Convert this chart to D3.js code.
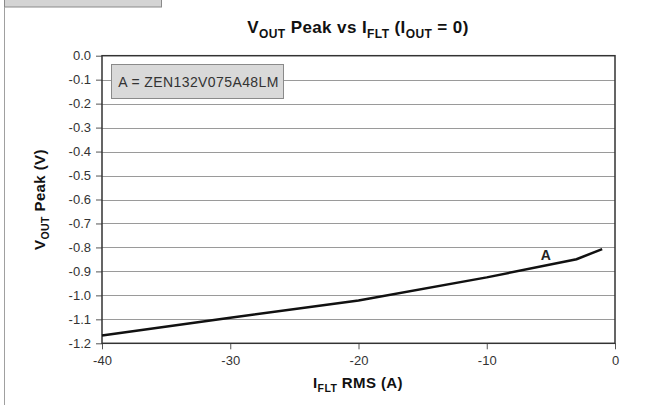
<!DOCTYPE html>
<html><head><meta charset="utf-8">
<script src="https://cdn.jsdelivr.net/npm/d3@7"></script>
<style>
html,body{margin:0;padding:0;background:#fff;}
svg{display:block;font-family:"Liberation Sans",Arial,Helvetica,sans-serif;}
</style></head>
<body><svg id="c" width="645" height="405"></svg>
<script>
const xTicks = [-40, -30, -20, -10, 0];
const yTicks = [0.0, -0.1, -0.2, -0.3, -0.4, -0.5, -0.6, -0.7, -0.8, -0.9, -1.0, -1.1, -1.2];
const seriesX = [-40, -30, -20, -10, -3, -1];
const seriesY = [-1.167, -1.093, -1.021, -0.925, -0.849, -0.807];
const seriesName = "A";
const legendText = "A = ZEN132V075A48LM";

const svg = d3.select("#c");
const L = 102, R = 615, T = 55.7, B = 343.3;
const x = d3.scaleLinear().domain([-40, 0]).range([L, R]);
const y = d3.scaleLinear().domain([-1.2, 0]).range([B, T]);

// figure tab and left frame line
svg.append("rect").attr("x", 4.5).attr("y", -2).attr("width", 157).attr("height", 9)
  .attr("fill", "#d4d4d4").attr("stroke", "#8a8a8a").attr("stroke-width", 1);
svg.append("line").attr("x1", 4.5).attr("x2", 4.5).attr("y1", 7).attr("y2", 405)
  .attr("stroke", "#a0a0a0").attr("stroke-width", 1);

// gridlines
svg.append("g").selectAll("line").data(yTicks.filter(d => d !== 0 && d !== -1.2)).join("line")
  .attr("x1", L).attr("x2", R).attr("y1", d => Math.round(y(d)) + 0.5).attr("y2", d => Math.round(y(d)) + 0.5)
  .attr("stroke", "#9a9a9a").attr("stroke-width", 1);

// y axis
const yAxis = d3.axisLeft(y).tickValues(yTicks).tickSize(6).tickPadding(5)
  .tickFormat(d => d3.format(".1f")(d).replace("−", "-"));
const gy = svg.append("g").attr("transform", `translate(${L},0)`).call(yAxis);
gy.select(".domain").remove();
gy.selectAll(".tick line").attr("stroke", "#555");
gy.selectAll(".tick text").attr("font-size", 13).attr("fill", "#333")
  .attr("font-family", "'Liberation Sans',Arial,sans-serif");

// x axis
const xAxis = d3.axisBottom(x).tickValues(xTicks).tickSize(6).tickPadding(6)
  .tickFormat(d => String(d));
const gx = svg.append("g").attr("transform", `translate(0,${B})`).call(xAxis);
gx.select(".domain").remove();
gx.selectAll(".tick line").attr("stroke", "#555");
gx.selectAll(".tick text").attr("font-size", 13).attr("fill", "#333")
  .attr("font-family", "'Liberation Sans',Arial,sans-serif");

// plot frame
svg.append("rect").attr("x", L).attr("y", T).attr("width", R - L).attr("height", B - T)
  .attr("fill", "none").attr("stroke", "#333").attr("stroke-width", 1.5);

// series
const pts = seriesX.map((d, i) => [d, seriesY[i]]);
svg.append("path").datum(pts)
  .attr("d", d3.line().x(d => x(d[0])).y(d => y(d[1])))
  .attr("fill", "none").attr("stroke", "#111").attr("stroke-width", 2.5);
svg.append("text").attr("x", x(-5.4)).attr("y", y(-0.8) + 12.5)
  .attr("text-anchor", "middle").attr("font-size", 14).attr("font-weight", "bold").attr("fill", "#222")
  .text(seriesName);

// legend box
svg.append("rect").attr("x", 111.5).attr("y", 64.5).attr("width", 172).attr("height", 34)
  .attr("fill", "#d9d9d9").attr("stroke", "#8a8a8a").attr("stroke-width", 1);
svg.append("text").attr("x", 198.5).attr("y", 86.5).attr("text-anchor", "middle")
  .attr("font-size", 14).attr("letter-spacing", 0.4).attr("fill", "#333").text(legendText);

// title
const title = svg.append("text").attr("x", 358).attr("y", 33.3).attr("text-anchor", "middle")
  .attr("font-size", 17).attr("letter-spacing", 0.4).attr("font-weight", "bold").attr("fill", "#111");
const subT = 12, dT = 4.5;
title.append("tspan").text("V");
title.append("tspan").attr("font-size", subT).attr("dy", dT).text("OUT");
title.append("tspan").attr("dy", -dT).text(" Peak vs I");
title.append("tspan").attr("font-size", subT).attr("dy", dT).text("FLT");
title.append("tspan").attr("dy", -dT).text(" (I");
title.append("tspan").attr("font-size", subT).attr("dy", dT).text("OUT");
title.append("tspan").attr("dy", -dT).text(" = 0)");

// x title
const xt = svg.append("text").attr("x", 358).attr("y", 387.7).attr("text-anchor", "middle")
  .attr("font-size", 15).attr("letter-spacing", 0.4).attr("font-weight", "bold").attr("fill", "#111");
xt.append("tspan").text("I");
xt.append("tspan").attr("font-size", 10.5).attr("dy", 4).text("FLT");
xt.append("tspan").attr("dy", -4).text(" RMS (A)");

// y title
const yt = svg.append("text").attr("transform", `translate(45,${(T + B) / 2}) rotate(-90)`)
  .attr("text-anchor", "middle").attr("font-size", 15).attr("letter-spacing", 0.4)
  .attr("font-weight", "bold").attr("fill", "#111");
yt.append("tspan").text("V");
yt.append("tspan").attr("font-size", 10.5).attr("dy", 4).text("OUT");
yt.append("tspan").attr("dy", -4).text(" Peak (V)");
</script></body></html>
